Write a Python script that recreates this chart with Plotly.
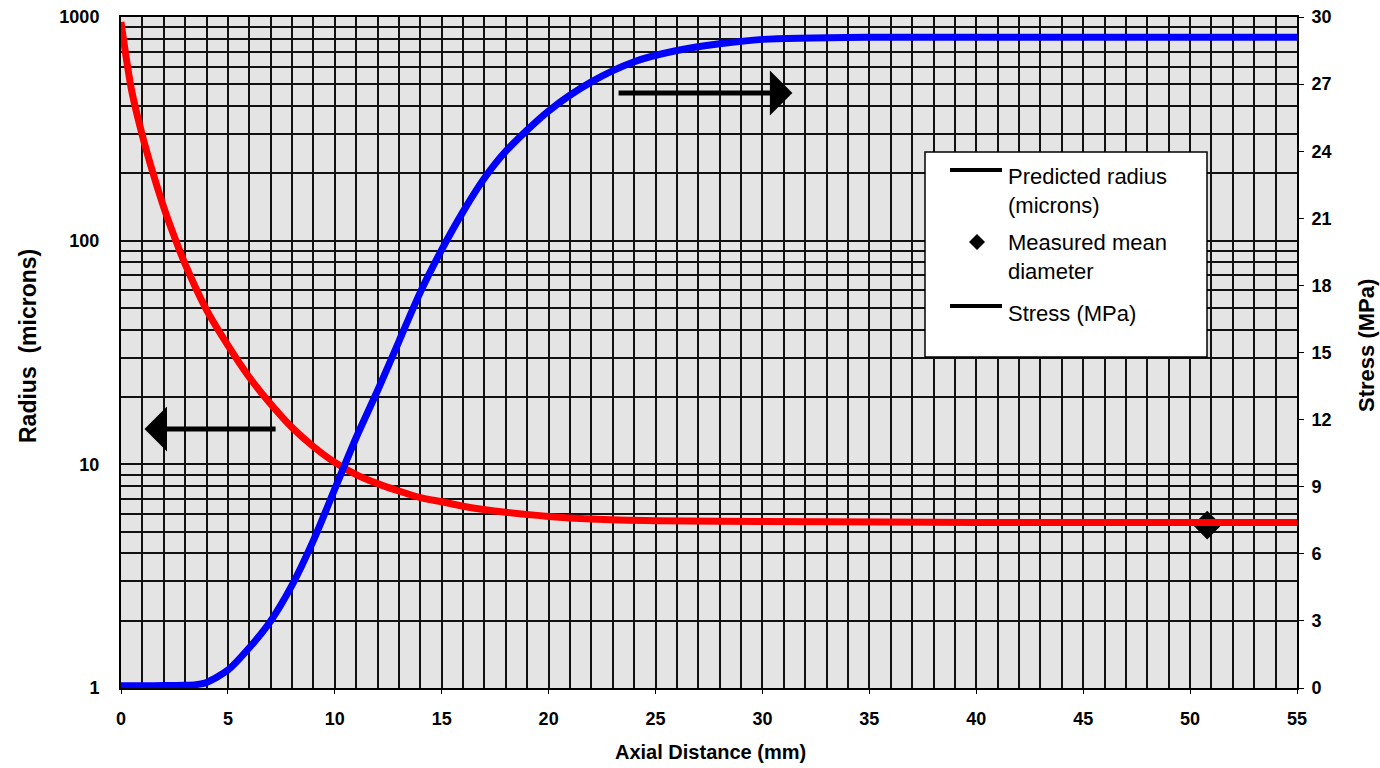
import plotly.graph_objects as go
import math

# ---------------- data ----------------
x_radius = [0, 0.5, 1, 1.5, 2, 2.5, 3, 4, 5, 6, 7, 8, 9, 10, 11, 12, 13, 14, 15,
            16, 18, 20, 22, 25, 30, 40, 55]
radius = [950, 468, 295, 200, 141, 104, 78.5, 49, 34, 24.5, 18.6, 14.6, 12.0, 10.2,
          9.0, 8.2, 7.6, 7.1, 6.8, 6.5, 6.1, 5.85, 5.7, 5.6, 5.55, 5.5, 5.5]

x_stress = [0, 1, 2, 3, 3.5, 4, 5, 6, 7, 8, 9, 10, 11, 12, 13, 14, 15, 16, 17, 18,
            20, 22, 24, 26, 28, 30, 35, 55]
stress = [0.1, 0.1, 0.11, 0.12, 0.15, 0.25, 0.8, 1.8, 3.0, 4.6, 6.6, 8.9, 11.2,
          13.3, 15.5, 17.7, 19.6, 21.3, 22.8, 24.0, 25.8, 27.1, 28.0, 28.5, 28.8,
          29.0, 29.1, 29.1]

x_measured = [50.8]
measured = [5.35]

x_ticks = [0, 5, 10, 15, 20, 25, 30, 35, 40, 45, 50, 55]
x_ticktext = [str(v) for v in x_ticks]
radius_decades = [1, 10, 100, 1000]
stress_ticks = [0, 3, 6, 9, 12, 15, 18, 21, 24, 27, 30]

legend_labels = ["Predicted radius<br>(microns)", "Measured mean<br>diameter", "Stress (MPa)"]
x_title = "Axial Distance (mm)"
y_title = "Radius  (microns)"
y2_title = "Stress (MPa)"

# arrow annotations (data coordinates)
left_arrow = dict(x_tip=1.1, x_tail=7.3, y=14.4)
right_arrow = dict(x_tip=31.4, x_tail=23.2, y=26.6)

# ---------------- layout helpers ----------------
W, H = 1380, 768
L, R, T, B = 121, 83, 17, 80
PW, PH = W - L - R, H - T - B


def px(xp):
    return (xp - L) / PW


def py(yp):
    return (H - B - yp) / PH


# log minor grid values
log_vals, log_text = [], []
for d in radius_decades[:-1]:
    for m in range(1, 10):
        log_vals.append(d * m)
        log_text.append(str(d) if m == 1 else "")
log_vals.append(radius_decades[-1])
log_text.append(str(radius_decades[-1]))

FONT = "Arial, Liberation Sans, sans-serif"
GRID = "#111111"

fig = go.Figure()

fig.add_trace(go.Scatter(x=x_measured, y=measured, mode="markers",
                         marker=dict(symbol="diamond", size=22, color="black"),
                         showlegend=False, yaxis="y"))
fig.add_trace(go.Scatter(x=x_radius, y=radius, mode="lines",
                         line=dict(color="#ff0000", width=7, shape="spline", smoothing=0.8),
                         showlegend=False, yaxis="y"))
fig.add_trace(go.Scatter(x=x_stress, y=stress, mode="lines",
                         line=dict(color="#0000ff", width=7, shape="spline", smoothing=0.8),
                         showlegend=False, yaxis="y2"))

tickfont = dict(family=FONT, size=18, color="black", weight="bold")

fig.update_layout(
    width=W, height=H,
    margin=dict(l=L, r=R, t=T, b=B, pad=0, autoexpand=False),
    paper_bgcolor="white",
    plot_bgcolor="#e4e4e4",
    showlegend=False,
    xaxis=dict(range=[0, 55], tickvals=x_ticks, ticktext=x_ticktext,
               showgrid=True, gridcolor=GRID, gridwidth=2,
               minor=dict(dtick=1, showgrid=True, gridcolor=GRID, gridwidth=2),
               ticks="outside", ticklen=4, tickcolor="black",
               ticklabelstandoff=9, automargin=False,
               showline=True, linecolor="black", linewidth=2, mirror=True,
               zeroline=False, tickfont=tickfont),
    yaxis=dict(type="log", range=[0, 3], tickvals=log_vals, ticktext=log_text,
               showgrid=True, gridcolor=GRID, gridwidth=2, ticks="",
               ticklabelstandoff=16, automargin=False,
               showline=True, linecolor="black", linewidth=2,
               zeroline=False, tickfont=tickfont),
    yaxis2=dict(overlaying="y", side="right", range=[0, 30], tickvals=stress_ticks,
                showgrid=False, zeroline=False, ticks="outside", ticklen=5,
                tickcolor="black", ticklabelstandoff=4, automargin=False,
                showline=True, linecolor="black", linewidth=2,
                tickfont=tickfont),
)

# axis titles
fig.add_annotation(text=x_title, xref="paper", yref="paper", x=px(711), y=py(752),
                   xanchor="center", yanchor="middle", showarrow=False,
                   font=dict(family=FONT, size=20, weight="bold", color="black"))
fig.add_annotation(text=y_title, xref="paper", yref="paper", x=px(28), y=py(346),
                   xanchor="center", yanchor="middle", textangle=-90, showarrow=False,
                   font=dict(family=FONT, size=23, weight="bold", color="black"))
fig.add_annotation(text=y2_title, xref="paper", yref="paper", x=px(1366), y=py(346),
                   xanchor="center", yanchor="middle", textangle=-90, showarrow=False,
                   font=dict(family=FONT, size=22, weight="bold", color="black"))

# arrows
fig.add_annotation(xref="x", yref="y", x=left_arrow["x_tip"], y=math.log10(left_arrow["y"]),
                   axref="x", ayref="y", ax=left_arrow["x_tail"], ay=math.log10(left_arrow["y"]),
                   showarrow=True, arrowhead=1, arrowwidth=5, arrowsize=1.5,
                   arrowcolor="black", text="")
fig.add_annotation(xref="x", yref="y2", x=right_arrow["x_tip"], y=right_arrow["y"],
                   axref="x", ayref="y2", ax=right_arrow["x_tail"], ay=right_arrow["y"],
                   showarrow=True, arrowhead=1, arrowwidth=5, arrowsize=1.5,
                   arrowcolor="black", text="")

# legend box (drawn)
fig.add_shape(type="rect", xref="paper", yref="paper",
              x0=px(925), x1=px(1207), y0=py(357), y1=py(152),
              fillcolor="white", line=dict(color="black", width=1.5), layer="above")
fig.add_shape(type="line", xref="paper", yref="paper",
              x0=px(950), x1=px(1002), y0=py(170), y1=py(170),
              line=dict(color="black", width=4), layer="above")
fig.add_shape(type="line", xref="paper", yref="paper",
              x0=px(950), x1=px(1002), y0=py(306), y1=py(306),
              line=dict(color="black", width=4), layer="above")
fig.add_shape(type="path", xref="paper", yref="paper",
              xsizemode="pixel", ysizemode="pixel",
              xanchor=px(977), yanchor=py(242),
              path="M 0 8 L 8 0 L 0 -8 L -8 0 Z",
              fillcolor="black", line=dict(color="black", width=0), layer="above")

leg_y = [191, 257, 313]
for lab, yy in zip(legend_labels, leg_y):
    fig.add_annotation(text=lab, xref="paper", yref="paper", x=px(1006), y=py(yy),
                       xanchor="left", yanchor="middle", align="left", showarrow=False,
                       font=dict(family=FONT, size=22, color="black"))

fig.write_html("out.html", config={"displayModeBar": False})

# remove the default page margin so the figure sits at the window's corner
with open("out.html", "r", encoding="utf-8") as f:
    html = f.read()
html = html.replace("<body>", '<body style="margin:0;overflow:hidden">', 1)
with open("out.html", "w", encoding="utf-8") as f:
    f.write(html)
